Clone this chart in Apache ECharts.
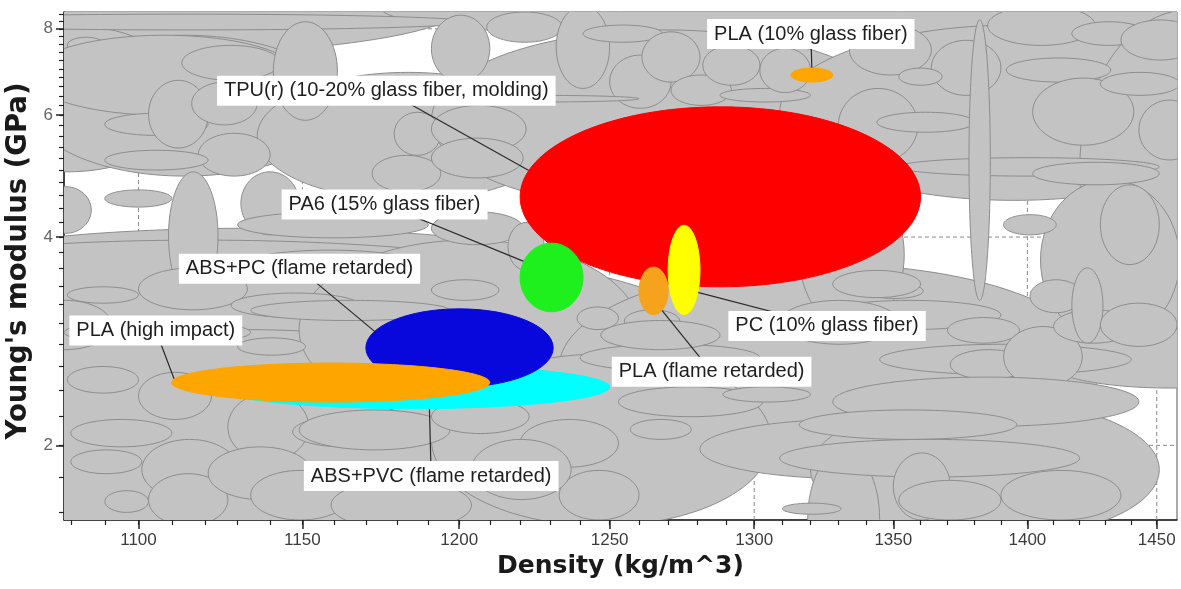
<!DOCTYPE html>
<html>
<head>
<meta charset="utf-8">
<script src="https://cdn.jsdelivr.net/npm/echarts@6/dist/echarts.min.js"></script>
<style>
  html, body { margin: 0; padding: 0; background: #ffffff; }
  #chart { width: 1181px; height: 589px; }
</style>
</head>
<body>
<div id="chart"></div>
<script>
// ---- Axis ticks ----
const densityTicks = [1100, 1150, 1200, 1250, 1300, 1350, 1400, 1450];
const densityMinorTicks = [1080, 1090, 1100, 1110, 1120, 1130, 1140, 1150, 1160, 1170, 1180, 1190,
  1200, 1210, 1220, 1230, 1240, 1250, 1260, 1270, 1280, 1290, 1300, 1310, 1320, 1330, 1340,
  1350, 1360, 1370, 1380, 1390, 1400, 1410, 1420, 1430, 1440, 1450];
const modulusTicks = [2, 4, 6, 8];
const modulusMinorTicks = [1.6, 1.8, 2.0, 2.2, 2.4, 2.6, 2.8, 3.0, 3.2, 3.4, 3.6, 3.8, 4.0, 4.2, 4.4,
  4.6, 4.8, 5.0, 5.2, 5.4, 5.6, 5.8, 6.0, 6.2, 6.4, 6.6, 6.8, 7.0, 7.2, 7.4, 7.6, 7.8, 8.0, 8.2, 8.4];
const densityRange = [1078, 1458];
const modulusRange = [1.56, 8.46];

// ---- Highlighted materials: density (kg/m^3) and Young's modulus (GPa) ranges ----
const materials = [
  'ABS+PVC (flame retarded)',
  'ABS+PC (flame retarded)',
  'PLA (high impact)',
  'TPU(r) (10-20% glass fiber, molding)',
  'PA6 (15% glass fiber)',
  'PLA (flame retarded)',
  'PC (10% glass fiber)',
  'PLA (10% glass fiber)'
];
const densityLow   = [1123, 1170, 1110, 1220, 1220, 1260, 1270, 1313];
const densityHigh  = [1250, 1231, 1210, 1360, 1241, 1270, 1281, 1328];
const modulusLow   = [2.26, 2.43, 2.31, 3.39, 3.12, 3.09, 3.09, 6.70];
const modulusHigh  = [2.61, 3.15, 2.63, 6.17, 3.92, 3.62, 4.16, 7.02];

// ---- Other materials of the database (grey envelopes): [densityMin, densityMax, modulusMin, modulusMax] ----
const envelopesWide = [
  [1004, 1200, 7.33, 10.05], [1175, 1507, 7.65, 9.56], [1043, 1116, 4.97, 8.10], [1068, 1162, 4.90, 7.83],
  [1136, 1233, 4.52, 6.92], [1191, 1352, 4.38, 7.97], [1309, 1487, 4.52, 8.10], [1420, 1507, 2.94, 8.52],
  [1045, 1233, 3.24, 4.12], [977, 1281, 2.18, 3.96], [1004, 1274, 1.12, 2.94], [1149, 1260, 2.18, 3.96],
  [1233, 1428, 1.84, 3.65], [1405, 1459, 2.84, 4.84], [1316, 1354, 2.94, 4.84], [1191, 1306, 1.53, 2.71],
  [1281, 1390, 1.79, 2.18], [1320, 1451, 1.46, 2.33], [1405, 1507, 2.42, 2.94], [1319, 1345, 1.24, 1.97]
];
const envelopesStiff = [
  [1079, 1090, 7.38, 7.78], [1068, 1149, 6.00, 7.83], [1031, 1204, 7.97, 8.40], [1113, 1143, 6.74, 7.57],
  [1090, 1121, 5.61, 6.04], [1103, 1121, 5.38, 6.74], [1116, 1136, 5.81, 6.70], [1141, 1161, 5.90, 8.19],
  [1118, 1140, 4.90, 5.65], [1090, 1121, 5.00, 5.34], [1109, 1124, 3.24, 4.97], [1071, 1086, 4.05, 4.73],
  [1090, 1110, 4.42, 4.68], [1131, 1149, 4.03, 4.97], [1130, 1190, 3.99, 4.35], [1172, 1194, 4.65, 5.25],
  [1179, 1194, 5.25, 6.06],
  [1191, 1210, 6.70, 8.37], [1209, 1234, 7.65, 8.46], [1232, 1250, 6.56, 8.64], [1241, 1268, 7.65, 8.10],
  [1250, 1271, 6.14, 7.33], [1261, 1281, 6.70, 7.92], [1271, 1292, 6.20, 6.86], [1282, 1302, 6.63, 7.57],
  [1288, 1320, 6.27, 6.56], [1302, 1320, 6.47, 7.50], [1191, 1222, 5.30, 6.20], [1191, 1221, 4.87, 5.56],
  [1191, 1221, 3.90, 4.35], [1216, 1228, 3.58, 4.20], [1194, 1260, 6.27, 6.41], [1334, 1364, 6.86, 8.10],
  [1364, 1390, 6.41, 7.70], [1330, 1359, 5.13, 6.56], [1352, 1368, 6.63, 7.02], [1344, 1380, 5.67, 6.06],
  [1385, 1426, 7.57, 8.64], [1392, 1432, 6.70, 7.26], [1417, 1446, 7.57, 8.19], [1402, 1441, 5.43, 6.79],
  [1428, 1459, 6.41, 6.92], [1436, 1467, 7.21, 8.24], [1443, 1467, 5.17, 6.31], [1352, 1451, 4.90, 5.21],
  [1402, 1451, 4.76, 5.13], [1428, 1451, 3.65, 4.76], [1391, 1411, 4.03, 4.31], [1378, 1386, 3.24, 8.24]
];
const envelopesSoft = [
  [1079, 1100, 3.21, 3.39], [1100, 1133, 3.14, 3.61], [1128, 1168, 3.06, 3.32], [1130, 1151, 2.70, 2.86],
  [1079, 1100, 2.38, 2.60], [1100, 1122, 2.18, 2.55], [1080, 1110, 1.99, 2.18], [1080, 1101, 1.82, 1.97],
  [1101, 1130, 1.67, 2.04], [1103, 1127, 1.53, 1.82], [1090, 1103, 1.60, 1.72], [1127, 1152, 1.90, 2.38],
  [1147, 1179, 1.99, 2.20], [1121, 1153, 1.67, 1.99], [1065, 1092, 2.75, 3.24], [1131, 1187, 3.47, 3.83],
  [1134, 1165, 1.56, 1.84], [1159, 1204, 1.51, 1.78], [1191, 1213, 3.24, 3.47], [1149, 1197, 1.97, 2.25],
  [1078, 1134, 2.80, 3.03], [1134, 1197, 3.03, 3.24],
  [1239, 1253, 2.94, 3.17], [1255, 1274, 2.91, 3.14], [1191, 1223, 2.08, 2.33], [1220, 1253, 1.86, 2.18],
  [1253, 1303, 2.20, 2.43], [1257, 1278, 2.04, 2.18], [1240, 1302, 2.56, 2.80], [1289, 1320, 2.31, 2.43],
  [1247, 1288, 2.75, 3.03], [1233, 1260, 1.56, 1.84], [1204, 1237, 1.67, 2.04], [1340, 1361, 3.26, 3.43],
  [1323, 1390, 2.94, 3.24], [1345, 1440, 2.53, 2.80],
  [1370, 1397, 2.81, 3.06], [1371, 1400, 2.49, 2.75], [1391, 1421, 2.43, 2.97], [1381, 1412, 2.33, 2.46],
  [1391, 1411, 2.16, 2.38], [1410, 1441, 2.81, 3.14], [1401, 1421, 3.11, 3.47], [1417, 1429, 2.81, 3.61],
  [1428, 1458, 2.78, 3.21], [1328, 1443, 2.13, 2.51], [1316, 1396, 2.04, 2.25], [1309, 1420, 1.80, 2.04],
  [1350, 1371, 1.56, 1.95], [1328, 1360, 3.27, 3.58], [1310, 1331, 1.59, 1.65], [1352, 1390, 1.56, 1.78],
  [1390, 1436, 1.56, 1.84], [1309, 1352, 2.80, 3.24]
];

// ---- Styling and label placement ----
const fillColors = ['#00ffff', '#0808dc', '#ffa500', '#ff0000', '#1ef01e', '#f5a21c', '#ffff00', '#ffa500'];
// label centre offset from the ellipse centre, in px
const labelOffsets = [[19, 89], [-160, -79], [-175, -52], [-334, -106], [-167, -73], [58, 81], [143, 56], [-1, -41]];
// where each leader line meets its ellipse (parametric angle, degrees)
const leaderAngles = [85, 205, 190, 197, 208, 55, 30, 270];

const L = Math.log10;
const xMin = L(densityRange[0]), xMax = L(densityRange[1]);
const yMin = L(modulusRange[0]), yMax = L(modulusRange[1]);

const rangeRow = r => [L(r[0]), L(r[1]), L(r[2]), L(r[3])];
const envelopeRows = envelopesWide.concat(envelopesStiff, envelopesSoft).map(rangeRow);
const highlightRows = materials.map((name, i) =>
  [L(densityLow[i]), L(densityHigh[i]), L(modulusLow[i]), L(modulusHigh[i])]);
const gridRows = densityTicks.map(d => [L(d), L(d), yMin, yMax])
  .concat(modulusTicks.map(e => [xMin, xMax, L(e), L(e)]));

function ellipseShape(api) {
  const a = api.coord([api.value(0), api.value(2)]);
  const b = api.coord([api.value(1), api.value(3)]);
  return {
    cx: (a[0] + b[0]) / 2, cy: (a[1] + b[1]) / 2,
    rx: Math.abs(b[0] - a[0]) / 2, ry: Math.abs(b[1] - a[1]) / 2
  };
}
function leaderPoints(api, i) {
  const s = ellipseShape(api);
  const t = leaderAngles[i] * Math.PI / 180;
  const end = [s.cx + s.rx * Math.cos(t), s.cy + s.ry * Math.sin(t)];
  const start = [s.cx + labelOffsets[i][0], s.cy + labelOffsets[i][1]];
  return { start, end };
}
const fmt = v => String(Math.round(Math.pow(10, v)));

const chart = echarts.init(document.getElementById('chart'), null, { renderer: 'canvas' });
chart.setOption({
  animation: false,
  backgroundColor: '#ffffff',
  grid: {
    left: 64, right: 4, top: 12, bottom: 69, outerBoundsMode: 'none', containLabel: false,
    show: true, backgroundColor: '#ffffff', borderColor: '#555555', borderWidth: 1
  },
  xAxis: [
    {
      type: 'value', min: xMin, max: xMax, position: 'bottom',
      axisLine: { show: true, onZero: false, lineStyle: { color: '#222222', width: 1.5 } },
      axisTick: { show: true, customValues: densityTicks.map(L), length: 9, lineStyle: { color: '#222222', width: 1.5 } },
      axisLabel: {
        customValues: densityTicks.map(L), formatter: fmt, margin: 12,
        color: '#3c3c3c', fontSize: 17, fontFamily: 'Liberation Sans'
      },
      splitLine: { show: false },
      name: 'Density (kg/m^3)', nameLocation: 'middle', nameGap: 34,
      nameTextStyle: { fontFamily: 'DejaVu Sans', fontWeight: 'bold', fontSize: 25, color: '#1a1a1a' }
    },
    {
      type: 'value', min: xMin, max: xMax, position: 'bottom',
      axisLine: { show: false, onZero: false },
      axisTick: { show: true, customValues: densityMinorTicks.map(L), length: 5, lineStyle: { color: '#222222', width: 1.2 } },
      axisLabel: { show: false }, splitLine: { show: false }
    }
  ],
  yAxis: [
    {
      type: 'value', min: yMin, max: yMax, position: 'left',
      axisLine: { show: true, onZero: false, lineStyle: { color: '#222222', width: 1.5 } },
      axisTick: { show: true, customValues: modulusTicks.map(L), length: 8, lineStyle: { color: '#222222', width: 1.5 } },
      axisLabel: {
        customValues: modulusTicks.map(L), formatter: fmt, margin: 11,
        color: '#666666', fontSize: 17, fontFamily: 'Liberation Sans'
      },
      splitLine: { show: false },
      name: "Young's modulus (GPa)", nameLocation: 'middle', nameGap: 26, nameRotate: 90,
      nameTextStyle: {
        fontFamily: 'DejaVu Sans', fontWeight: 'bold', fontSize: 27.5, color: '#1a1a1a',
        padding: [0, 0, 0, 10]
      }
    },
    {
      type: 'value', min: yMin, max: yMax, position: 'left',
      axisLine: { show: false, onZero: false },
      axisTick: { show: true, customValues: modulusMinorTicks.map(L), length: 5, lineStyle: { color: '#222222', width: 1.2 } },
      axisLabel: { show: false }, splitLine: { show: false }
    }
  ],
  series: [
    {
      // dashed reference lines at the labelled ticks
      type: 'custom', coordinateSystem: 'cartesian2d', silent: true, clip: true, z: 1,
      encode: { x: [0, 1], y: [2, 3] }, data: gridRows,
      renderItem: (params, api) => {
        const a = api.coord([api.value(0), api.value(2)]);
        const b = api.coord([api.value(1), api.value(3)]);
        return {
          type: 'line', shape: { x1: a[0], y1: a[1], x2: b[0], y2: b[1] },
          style: { stroke: '#8a8a8a', lineWidth: 1, lineDash: [4, 3] }
        };
      }
    },
    {
      // property envelopes of the remaining materials
      type: 'custom', coordinateSystem: 'cartesian2d', silent: true, clip: true, z: 2,
      encode: { x: [0, 1], y: [2, 3] }, data: envelopeRows,
      renderItem: (params, api) => ({
        type: 'ellipse', shape: ellipseShape(api),
        style: { fill: '#c3c3c3', stroke: '#8d8d8d', lineWidth: 1 }
      })
    },
    {
      // leader lines from the labels to their ellipses
      type: 'custom', coordinateSystem: 'cartesian2d', silent: true, clip: false, z: 3,
      encode: { x: [0, 1], y: [2, 3] }, data: highlightRows,
      renderItem: (params, api) => {
        const p = leaderPoints(api, params.dataIndex);
        return {
          type: 'line', shape: { x1: p.start[0], y1: p.start[1], x2: p.end[0], y2: p.end[1] },
          style: { stroke: '#2a2a2a', lineWidth: 1.2 }
        };
      }
    },
    {
      // highlighted materials
      type: 'custom', coordinateSystem: 'cartesian2d', silent: true, clip: true, z: 4,
      encode: { x: [0, 1], y: [2, 3] }, data: highlightRows,
      renderItem: (params, api) => ({
        type: 'ellipse', shape: ellipseShape(api),
        style: { fill: fillColors[params.dataIndex], stroke: fillColors[params.dataIndex], lineWidth: 1 }
      })
    },
    {
      // material labels
      type: 'custom', coordinateSystem: 'cartesian2d', silent: true, clip: false, z: 5,
      encode: { x: [0, 1], y: [2, 3] }, data: highlightRows,
      renderItem: (params, api) => {
        const p = leaderPoints(api, params.dataIndex);
        return {
          type: 'text', x: p.start[0], y: p.start[1],
          style: {
            text: materials[params.dataIndex], fill: '#1e1e1e',
            fontSize: 20, fontFamily: 'Liberation Sans',
            align: 'center', verticalAlign: 'middle',
            backgroundColor: '#ffffff', padding: [5, 7]
          }
        };
      }
    }
  ]
});
</script>
</body>
</html>
